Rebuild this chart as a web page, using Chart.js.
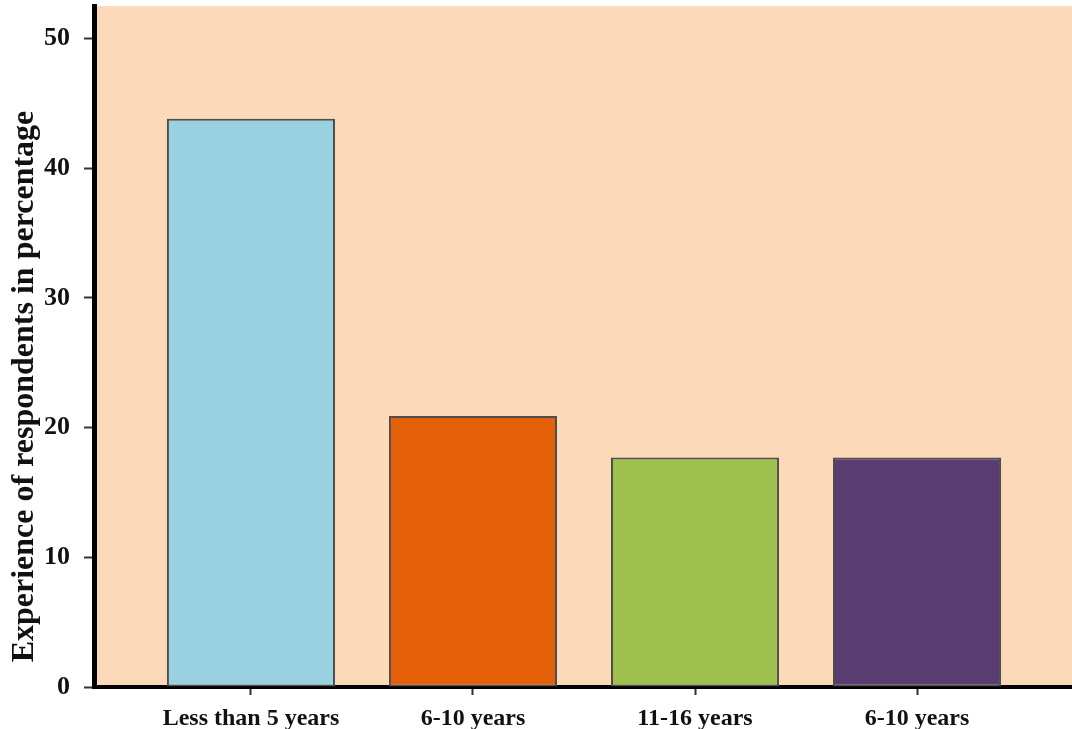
<!DOCTYPE html>
<html>
<head>
<meta charset="utf-8">
<script src="https://cdn.jsdelivr.net/npm/chart.js@4.4.1/dist/chart.umd.min.js"></script>
<style>
  html, body { margin: 0; padding: 0; background: #fff; }
  #wrap { width: 1072px; height: 729px; position: relative; }
</style>
</head>
<body>
<div id="wrap"><canvas id="myC"></canvas></div>
<script>
const categorias = ['Less than 5 years', '6-10 years', '11-16 years', '6-10 years'];
const valores = [43.8, 20.9, 17.7, 17.7];
const cores = ['#99D1E0', '#E4610A', '#A0C150', '#573D72'];
const yTicks = [0, 10, 20, 30, 40, 50];

const ctx = document.querySelector('#myC').getContext('2d');

// fundo pessego so na area do grafico
const fundo = {
  id: 'fundo',
  beforeDraw(chart) {
    const a = chart.chartArea;
    const c = chart.ctx;
    c.save();
    c.fillStyle = '#FCD9B9';
    c.fillRect(a.left, a.top, a.right - a.left, a.bottom - a.top);
    c.restore();
  }
};

const fonte = { family: '"Liberation Serif", "Times New Roman", serif', weight: 'bold' };

const semPadding = s => {
  s.paddingTop = 0;
  s.paddingBottom = 0;
  s.paddingLeft = 0;
  s.paddingRight = 0;
};

const chart = new Chart(ctx, {
  type: 'bar',
  data: {
    datasets: [{
      data: valores.map((v, i) => ({ x: i, y: v })),
      backgroundColor: cores,
      borderColor: '#4d4d4d',
      borderWidth: 2,
      borderSkipped: false,
      categoryPercentage: 1,
      barPercentage: 0.757,
    }]
  },
  options: {
    responsive: true,
    maintainAspectRatio: false,
    animation: false,
    layout: { padding: { top: 6, right: 0, left: 0, bottom: 0 } },
    scales: {
      x: {
        type: 'linear',
        min: -0.707,
        max: 3.698,
        offset: false,
        afterFit: s => { s.height = 42; semPadding(s); },
        ticks: {
          stepSize: 1,
          includeBounds: false,
          autoSkip: false,
          maxRotation: 0,
          padding: 9,
          color: '#111',
          font: { ...fonte, size: 24 },
          callback: v => categorias[v] ?? ''
        },
        grid: { offset: false, drawOnChartArea: false, tickLength: 8, tickWidth: 2, tickColor: '#333' },
        border: { display: true, color: '#000', width: 4 }
      },
      y: {
        min: 0,
        max: 52.5,
        afterFit: s => { s.width = 94; semPadding(s); },
        afterBuildTicks: s => { s.ticks = yTicks.map(v => ({ value: v })); },
        ticks: {
          padding: 14,
          color: '#111',
          font: { ...fonte, size: 26 }
        },
        grid: { drawOnChartArea: false, tickLength: 10, tickWidth: 2, tickColor: '#333' },
        border: { display: true, color: '#000', width: 5 },
        title: {
          display: true,
          text: 'Experience of respondents in percentage          ',
          color: '#111',
          font: { ...fonte, size: 32 },
          padding: { top: 6, bottom: 0 }
        }
      }
    },
    plugins: {
      legend: { display: false },
      tooltip: { enabled: false }
    }
  },
  plugins: [fundo]
});
</script>
</body>
</html>
